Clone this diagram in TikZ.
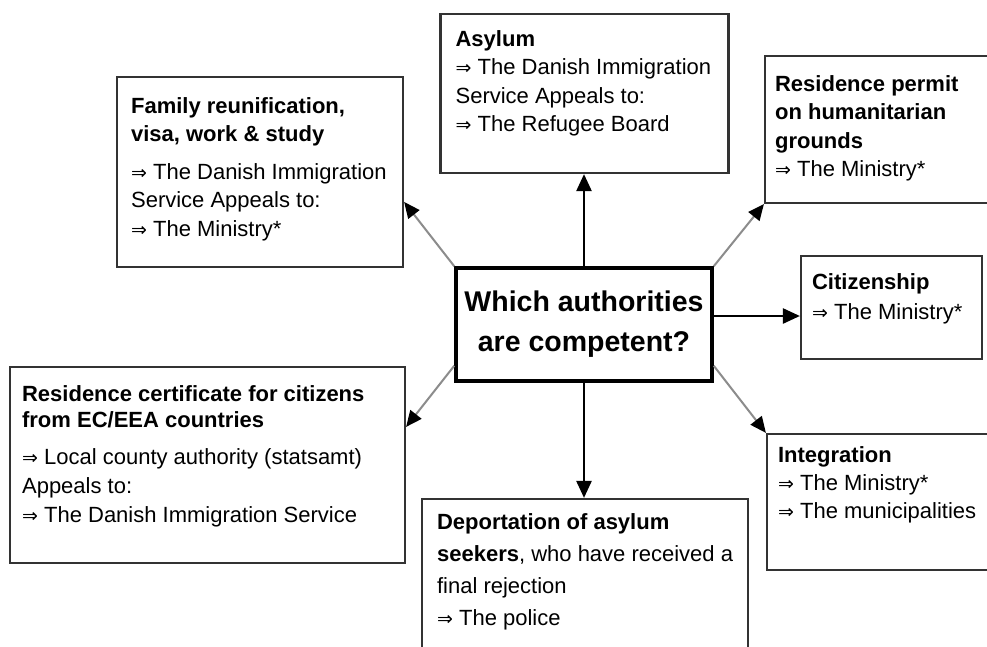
\documentclass[tikz,border=0pt]{standalone}
\usepackage{fontspec}
\setmainfont{Liberation Sans}
\newfontfamily\arrfont{DejaVu Sans}
\usetikzlibrary{arrows.meta,calc}
\newcommand{\imp}{{\arrfont\fontsize{19}{19}\selectfont ⇒}}
\begin{document}
\begin{tikzpicture}[x=1pt,y=-1pt,
  box/.style={draw=black!80, line width=2.2pt, fill=white, inner sep=0pt, rectangle},
  cbox/.style={draw=black, line width=3.5pt, fill=white, inner sep=0pt, rectangle, align=center,
    font=\bfseries\fontsize{28.5}{40}\selectfont},
  txt/.style={anchor=north west, align=left, inner sep=0pt},
  blk/.style={line width=2.5pt, black, -{Triangle[length=17pt,width=15pt]}},
  gry/.style={line width=2pt, black!45, -{Triangle[length=16pt,width=14pt,color=black]}}
]
\useasboundingbox (0,0) rectangle (987,646);
\fill[white] (0,0) rectangle (987,646);
\clip (0,0) rectangle (987,646);

% boxes
\node[box, minimum width=286pt, minimum height=190pt] (fam) at (260,172) {};
\node[box, minimum width=288pt, minimum height=159pt] (asy) at (584.5,93.5) {};
\node[box, minimum width=235pt, minimum height=147pt] (rpm) at (882.5,129.5) {};
\node[cbox, minimum width=256pt, minimum height=113pt] (ctr) at (584,324.5) {Which authorities\\are competent?};
\node[box, minimum width=181pt, minimum height=103pt] (cit) at (891.5,307.5) {};
\node[box, minimum width=395pt, minimum height=196pt] (rc) at (207.5,465) {};
\node[box, minimum width=326pt, minimum height=161pt] (dep) at (585,579.5) {};
\node[box, minimum width=233pt, minimum height=136pt] (int) at (883.5,502) {};

% texts
\node[txt, font=\fontsize{22}{28.5}\selectfont] (famt) at ($(fam.north west)+(15,21)$)
  {\textbf{Family reunification,}\\\textbf{visa, work \& study}\\[9pt]
   \imp{} The Danish Immigration\\Service Appeals to:\\\imp{} The Ministry*};
\node[txt, font=\fontsize{22}{28.5}\selectfont] (asyt) at ($(asy.north west)+(16,17)$)
  {\textbf{Asylum}\\\imp{} The Danish Immigration\\Service Appeals to:\\\imp{} The Refugee Board};
\node[txt, font=\fontsize{22}{28.5}\selectfont] (rpmt) at ($(rpm.north west)+(11,20)$)
  {\textbf{Residence permit}\\\textbf{on humanitarian}\\\textbf{grounds}\\\imp{} The Ministry*};
\node[txt, font=\fontsize{22}{30}\selectfont] (citt) at ($(cit.north west)+(12,18)$)
  {\textbf{Citizenship}\\\imp{} The Ministry*};
\node[txt, font=\fontsize{22}{29}\selectfont] (rct) at ($(rc.north west)+(13,19)$)
  {\textbf{Residence certificate for citizens}\\[-3pt]\textbf{from EC/EEA countries}\\[8pt]
   \imp{} Local county authority (statsamt)\\Appeals to:\\\imp{} The Danish Immigration Service};
\node[txt, font=\fontsize{22}{32}\selectfont] (dept) at ($(dep.north west)+(16,15)$)
  {\textbf{Deportation of asylum}\\\textbf{seekers}, who have received a\\final rejection\\\imp{} The police};
\node[txt, font=\fontsize{22}{28}\selectfont] (intt) at ($(int.north west)+(12,13)$)
  {\textbf{Integration}\\\imp{} The Ministry*\\\imp{} The municipalities};

% connector end points
\coordinate (cE) at ($(ctr.east)+(0,-8.5)$);
\coordinate (cL) at ($(ctr.south west)+(0,-17)$);
\coordinate (cR) at ($(ctr.south east)+(0,-17)$);
\coordinate (tFam) at ($(fam.north east)+(0,126)$);
\coordinate (tRc) at ($(rc.north east)+(0,61)$);

% connectors
\draw[blk] (ctr.north) -- (ctr.north |- asy.south);
\draw[blk] (ctr.south) -- (ctr.south |- dep.north);
\draw[blk] (cE) -- (cE -| cit.west);
\draw[gry] (ctr.north west) -- (tFam);
\draw[gry] (ctr.north east) -- (rpm.south west);
\draw[gry] (cL) -- (tRc);
\draw[gry] (cR) -- (int.north west);
\end{tikzpicture}
\end{document}
